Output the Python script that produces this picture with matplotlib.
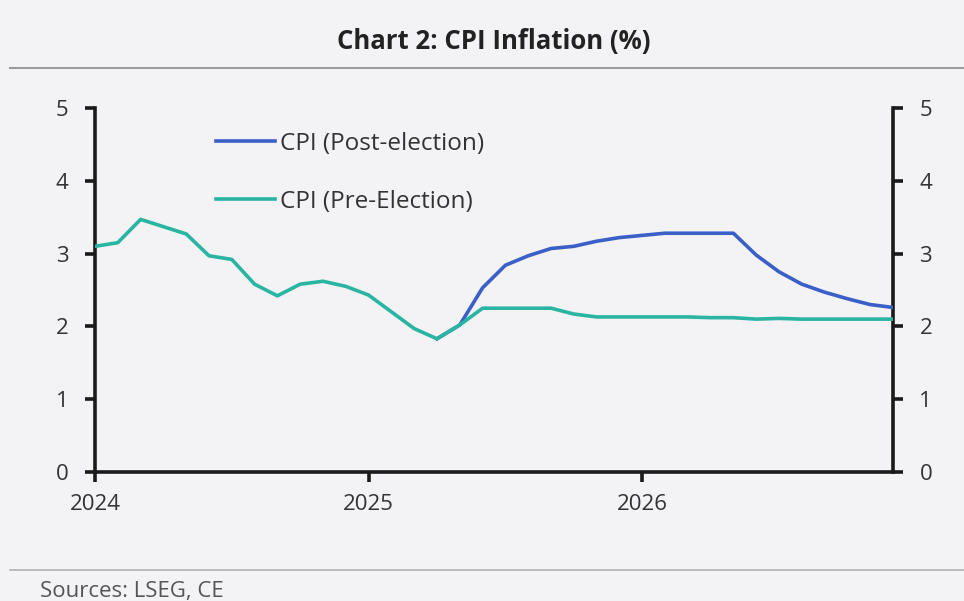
import numpy as np
import matplotlib
matplotlib.use("Agg")
import matplotlib.pyplot as plt
from matplotlib.lines import Line2D

plt.rcParams['font.family'] = ['Open Sans', 'DejaVu Sans']

# Monthly data, Jan 2024 .. Dec 2026
start_year = 2024
pre_election = [3.10, 3.15, 3.47, 3.37, 3.27, 2.97, 2.92, 2.58, 2.42, 2.58, 2.62, 2.55,
                2.43, 2.20, 1.97, 1.83, 2.02, 2.25, 2.25, 2.25, 2.25, 2.17, 2.13, 2.13,
                2.13, 2.13, 2.13, 2.12, 2.12, 2.10, 2.11, 2.10, 2.10, 2.10, 2.10, 2.10]
post_election = [np.nan] * 15 + [1.83, 2.02, 2.53, 2.84, 2.97, 3.07, 3.10, 3.17, 3.22,
                                 3.25, 3.28, 3.28, 3.28, 3.28, 2.98, 2.75, 2.58, 2.47,
                                 2.38, 2.30, 2.26]
year_ticks = [2024, 2025, 2026]
y_ticks = [0, 1, 2, 3, 4, 5]
title = "Chart 2: CPI Inflation (%)"
source = "Sources: LSEG, CE"

x = start_year + np.arange(len(pre_election)) / 12.0

bg = '#f3f3f6'
fig = plt.figure(figsize=(9.64, 6.01), dpi=100, facecolor=bg)
W, H = 964, 601
ax = fig.add_axes([95 / W, 1 - 472 / H, (893 - 95) / W, (472 - 108) / H])
ax.set_facecolor(bg)

blue = '#3a5fc6'
teal = '#2ab4a2'
ax.plot(x, post_election, color=blue, lw=2.6, solid_joinstyle='round', zorder=3)
ax.plot(x, pre_election, color=teal, lw=2.6, solid_joinstyle='round', zorder=4)

ax.set_xlim(x[0], x[-1])
ax.set_ylim(0, 5)
ax.set_xticks(year_ticks)
ax.set_xticklabels([str(t) for t in year_ticks])
ax.set_yticks(y_ticks)

for s in ['left', 'right', 'bottom']:
    ax.spines[s].set_linewidth(2.6)
    ax.spines[s].set_color('#1a1a1a')
ax.spines['top'].set_visible(False)

ax.tick_params(axis='y', which='both', left=True, right=True, labelleft=True, labelright=True,
               direction='out', length=7, width=2.6, color='#1a1a1a',
               labelsize=16, labelcolor='#333333', pad=12)
ax.tick_params(axis='x', direction='out', length=7, width=2.6, color='#1a1a1a',
               labelsize=16, labelcolor='#333333', pad=9)

handles = [Line2D([], [], color=blue, lw=2.6), Line2D([], [], color=teal, lw=2.6)]
leg = ax.legend(handles, ['CPI (Post-election)', 'CPI (Pre-Election)'],
                loc='upper left', bbox_to_anchor=(0.124, 0.995), frameon=False,
                fontsize=17.5, handlelength=2.45, handletextpad=0.2, labelspacing=1.4,
                labelcolor='#333333')

fig.text(494 / W, 1 - 41 / H, title, ha='center', va='center', fontsize=18.5,
         fontweight='bold', color='#222222')
fig.add_artist(Line2D([10 / W, 1], [1 - 68 / H, 1 - 68 / H], color='#9a9a9a', lw=1.5))
fig.add_artist(Line2D([10 / W, 1], [1 - 570 / H, 1 - 570 / H], color='#b0b0b0', lw=1.2))
fig.text(40 / W, 1 - 592 / H, source, ha='left', va='center', fontsize=16, color='#555555')

fig.savefig('out.png', dpi=100, facecolor=bg)
